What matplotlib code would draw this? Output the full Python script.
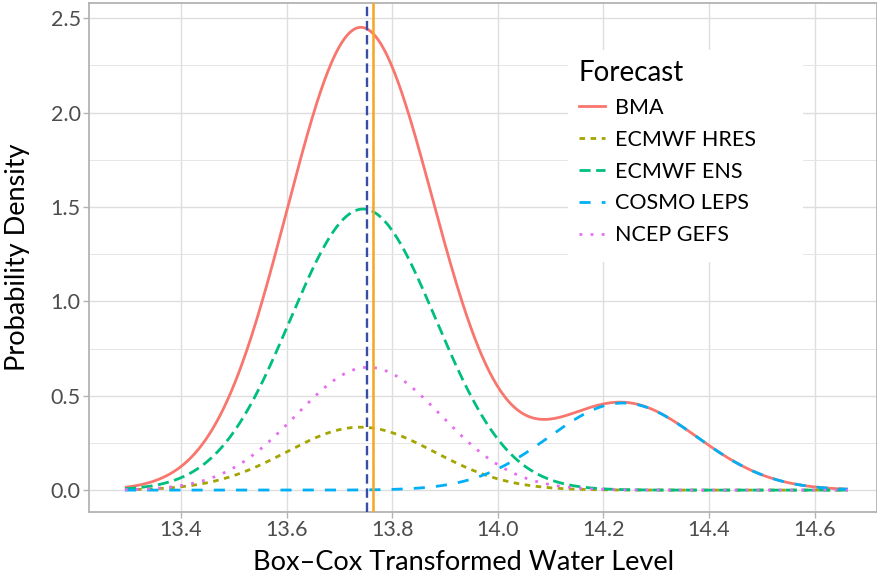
import numpy as np
import matplotlib
matplotlib.use("Agg")
import matplotlib.pyplot as plt
from matplotlib.lines import Line2D
from matplotlib.patches import Rectangle

# ---- data ----
forecasts = ["ECMWF HRES", "ECMWF ENS", "COSMO LEPS", "NCEP GEFS"]
comp_means = [13.740, 13.745, 14.237, 13.755]
comp_sds = [0.140, 0.138, 0.141, 0.138]
comp_weights = [0.117, 0.515, 0.163, 0.225]
# BMA kernels (bias-corrected means, BMA spreads), same weights
bma_means = [13.735, 13.740, 14.237, 13.745]
bma_sds = [0.1395, 0.1395, 0.141, 0.1395]
x_range = [13.294, 14.663]
bma_line = 13.752        # dashed vertical line
observed = 13.763        # solid vertical line

x_ticks = [13.4, 13.6, 13.8, 14.0, 14.2, 14.4, 14.6]
y_ticks = [0.0, 0.5, 1.0, 1.5, 2.0, 2.5]

colors = {"BMA": "#F8766D", "ECMWF HRES": "#A3A500", "ECMWF ENS": "#00BF7D",
          "COSMO LEPS": "#00B0F6", "NCEP GEFS": "#E76BF3"}
dashes = {"BMA": None, "ECMWF HRES": (2, 2), "ECMWF ENS": (4, 2),
          "COSMO LEPS": (4, 4), "NCEP GEFS": (1, 3)}

plt.rcParams['font.family'] = ['Lato', 'DejaVu Sans']

W, H = 878, 580
fig = plt.figure(figsize=(W / 100, H / 100), dpi=100)
ax = fig.add_axes([89 / W, 68 / H, 788 / W, 509 / H])

xs = np.linspace(x_range[0], x_range[1], 600)
def npdf(x, m, s):
    return np.exp(-0.5 * ((x - m) / s) ** 2) / (s * np.sqrt(2 * np.pi))

comps = {}
for name, m, s, w in zip(forecasts, comp_means, comp_sds, comp_weights):
    comps[name] = w * npdf(xs, m, s)
bma = np.zeros_like(xs)
for m, s, w in zip(bma_means, bma_sds, comp_weights):
    bma += w * npdf(xs, m, s)

lw = 2.0
handles = []
order = ["BMA"] + forecasts
for name in order:
    y = bma if name == "BMA" else comps[name]
    ln, = ax.plot(xs, y, color=colors[name], lw=lw, solid_capstyle='butt',
                  dash_capstyle='butt', zorder=3)
    if dashes[name] is not None:
        ln.set_dashes(dashes[name])
    h = Line2D([], [], color=colors[name], lw=lw, dash_capstyle='butt')
    if dashes[name] is not None:
        h.set_dashes(dashes[name])
    handles.append(h)

ax.axvline(bma_line, color="#3A4DA5", lw=1.7, dashes=(4, 2), zorder=4)
ax.axvline(observed, color="#F5A623", lw=1.8, zorder=4)

ax.set_xlim(13.226, 14.718)
ax.set_ylim(-0.116, 2.58)
ax.set_xticks(x_ticks)
ax.set_xticklabels([f"{v:.1f}" for v in x_ticks])
ax.set_yticks(y_ticks)
ax.set_yticklabels([f"{v:.1f}" for v in y_ticks])
ax.set_yticks([0.25, 0.75, 1.25, 1.75, 2.25], minor=True)
ax.grid(True, which='major', color="#DEDEDE", lw=1.0, zorder=0)
ax.grid(True, which='minor', axis='y', color="#E6E6E6", lw=0.7, zorder=0)
ax.set_axisbelow(True)
for sp in ax.spines.values():
    sp.set_color("#B3B3B3")
    sp.set_linewidth(1.3)
ax.tick_params(axis='both', which='major', length=4, width=1.0, color="#B3B3B3",
               labelcolor="#4D4D4D", labelsize=15.5, pad=2)
ax.tick_params(axis='both', which='minor', length=0)

ax.set_xlabel("Box\u2013Cox Transformed Water Level", fontsize=19.5, color="black")
ax.set_ylabel("Probability Density", fontsize=19.5, color="black")
ax.xaxis.set_label_coords((464 - 89) / 788, -(562 - 512) / 509)
ax.yaxis.set_label_coords(-(89 - 18) / 788, 0.5)
ax.xaxis.label.set_va('center')
ax.yaxis.label.set_va('center')

# legend background box
bg = Rectangle((568 / W, 1 - 262 / H), 235 / W, 212 / H, transform=fig.transFigure,
               facecolor="white", edgecolor="none", zorder=1)
ax.add_patch(bg)

leg = ax.legend(handles, order, title="Forecast", loc="upper left",
                bbox_to_anchor=(579 / W, 1 - 60 / H), bbox_transform=fig.transFigure,
                frameon=False, fontsize=15.5, title_fontsize=20, handlelength=1.2,
                handletextpad=0.45, labelspacing=0.55, borderpad=0, borderaxespad=0,
                alignment='left')
leg.set_zorder(5)

fig.savefig("out.png", dpi=100)
